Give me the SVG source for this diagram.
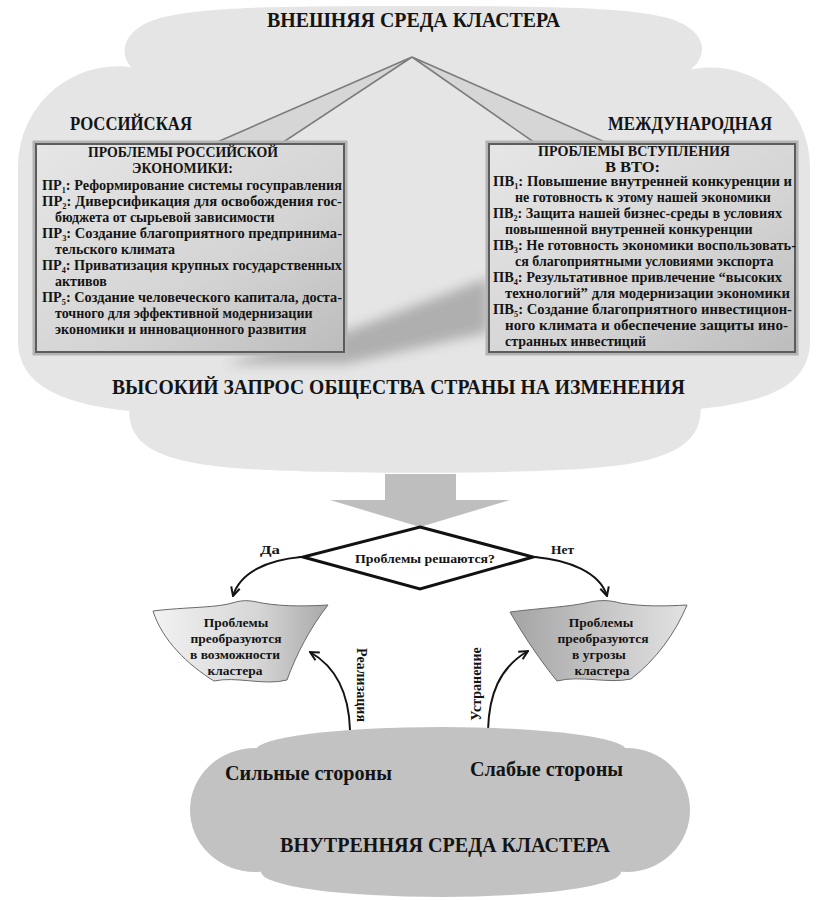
<svg xmlns="http://www.w3.org/2000/svg" width="830" height="900" viewBox="0 0 830 900">
<style>
.t{font-family:"Liberation Serif","Times New Roman",serif;font-weight:bold;fill:#141414}
.h{font-size:14px}
.b{font-size:14px}
.m{font-size:13.5px;text-anchor:middle}
.cloud1{fill:#e5e5e5}
.cloud2{fill:#c2c2c2}
.ln{fill:none;stroke:#141414;stroke-width:2}
.box{fill:url(#gbox);stroke:#5c5c5c;stroke-width:2}
.boxo{fill:none;stroke:#b4b4b4;stroke-width:3}
.wedge{fill:#d6d6d6;stroke:#7c7c7c;stroke-width:1.6}
</style>
<defs>
<linearGradient id="gbox" x1="0" y1="0" x2="1" y2="1">
<stop offset="0" stop-color="#e6e6e6"/>
<stop offset="0.6" stop-color="#d4d4d4"/>
<stop offset="1" stop-color="#bcbcbc"/>
</linearGradient>
<linearGradient id="gbowlL" x1="0" y1="0" x2="1" y2="0">
<stop offset="0" stop-color="#f2f2f2"/>
<stop offset="0.6" stop-color="#d6d6d6"/>
<stop offset="1" stop-color="#a9a9a9"/>
</linearGradient>
<linearGradient id="gbowlR" x1="0" y1="0" x2="1" y2="0">
<stop offset="0" stop-color="#a4a4a4"/>
<stop offset="0.5" stop-color="#c4c4c4"/>
<stop offset="1" stop-color="#e2e2e2"/>
</linearGradient>
<filter id="blur" x="-20%" y="-50%" width="140%" height="200%"><feGaussianBlur stdDeviation="6"/></filter>
<marker id="ah" viewBox="0 0 10 10" refX="9" refY="5" markerWidth="11" markerHeight="11" markerUnits="userSpaceOnUse" orient="auto">
<path d="M1,1 L9,5 L1,9" fill="none" stroke="#141414" stroke-width="1.8"/>
</marker>
</defs>

<!-- outer cloud -->
<g id="external-cloud">
<path class="cloud1" d="M140,75 C116,60 118,30 160,18 C200,8 260,6 412,6 C565,6 630,8 668,18 C708,30 712,58 684,74 Z"/>
<path class="cloud1" d="M145,70 A100,100 0 0 0 18,167 L18,340 C18,385 60,405 140,412 L170,412 L170,70 Z"/>
<path class="cloud1" d="M680,72 A100,100 0 0 1 810,167 L810,340 C810,385 770,403 690,410 L660,410 L660,72 Z"/>
<rect class="cloud1" x="150" y="68" width="530" height="350"/>
<path class="cloud1" d="M130,400 C124,442 150,463 250,469 C330,474 500,474 580,469 C680,463 706,440 700,398 Z"/>
<polygon points="250,356 345,332 488,278 488,332 345,364 225,364" fill="#6e6e6e" opacity="0.45" filter="url(#blur)"/>
<text class="t" x="267" y="27" font-size="21" textLength="293" lengthAdjust="spacingAndGlyphs">ВНЕШНЯЯ СРЕДА  КЛАСТЕРА</text>
<text class="t" x="70" y="130" font-size="18" textLength="122" lengthAdjust="spacingAndGlyphs">РОССИЙСКАЯ</text>
<text class="t" x="608" y="130" font-size="18" textLength="164" lengthAdjust="spacingAndGlyphs">МЕЖДУНАРОДНАЯ</text>
<text class="t" x="112" y="394" font-size="21" textLength="573" lengthAdjust="spacingAndGlyphs">ВЫСОКИЙ ЗАПРОС ОБЩЕСТВА СТРАНЫ НА ИЗМЕНЕНИЯ</text>
</g>

<!-- connectors -->
<g id="connectors">
<polygon class="wedge" points="412,57 215,143 282,143"/>
<polygon class="wedge" points="412,57 535,143 607,143"/>
<polygon points="330,500 385,500 385,474 456,474 456,500 510,500 420,527" fill="#bebebe"/>
<path class="ln" d="M301,557 C268,560 240,572 233,596" marker-end="url(#ah)"/>
<path class="ln" d="M535,557 C568,560 600,572 607,596" marker-end="url(#ah)"/>
<path class="ln" d="M350,730 C349,695 338,668 310,652" marker-end="url(#ah)"/>
<path class="ln" d="M488,730 C489,695 499,668 528,651" marker-end="url(#ah)"/>
<path class="ln" d="M348,832 C340,815 328,800 318,789" marker-end="url(#ah)"/>
<path class="ln" d="M515,831 C528,818 540,805 548,789" marker-end="url(#ah)"/>
<text class="t" x="260" y="554" font-size="13" textLength="20" lengthAdjust="spacingAndGlyphs">Да</text>
<text class="t" x="551" y="554" font-size="13" textLength="23" lengthAdjust="spacingAndGlyphs">Нет</text>
<text class="t" font-size="14" text-anchor="middle" transform="translate(357,685) rotate(90)">Реализация</text>
<text class="t" font-size="14" text-anchor="middle" transform="translate(481,684) rotate(-90)">Устранение</text>
</g>

<!-- left box -->
<g id="box-russia">
<rect class="boxo" x="34" y="142" width="312" height="212"/>
<rect class="box" x="36" y="144" width="308" height="208"/>
<text class="t h" x="88" y="157" textLength="190" lengthAdjust="spacingAndGlyphs">ПРОБЛЕМЫ РОССИЙСКОЙ</text>
<text class="t h" x="132" y="173" textLength="101" lengthAdjust="spacingAndGlyphs">ЭКОНОМИКИ:</text>
<text class="t b" x="42" y="190" textLength="300" lengthAdjust="spacingAndGlyphs">ПР<tspan font-size="8" dy="3">1</tspan><tspan dy="-3">: Реформирование системы госуправления</tspan></text>
<text class="t b" x="42" y="206" textLength="300" lengthAdjust="spacingAndGlyphs">ПР<tspan font-size="8" dy="3">2</tspan><tspan dy="-3">: Диверсификация для освобождения гос-</tspan></text>
<text class="t b" x="55" y="222">бюджета от сырьевой зависимости</text>
<text class="t b" x="42" y="238" textLength="300" lengthAdjust="spacingAndGlyphs">ПР<tspan font-size="8" dy="3">3</tspan><tspan dy="-3">: Создание благоприятного предпринима-</tspan></text>
<text class="t b" x="55" y="254">тельского климата</text>
<text class="t b" x="42" y="270" textLength="300" lengthAdjust="spacingAndGlyphs">ПР<tspan font-size="8" dy="3">4</tspan><tspan dy="-3">: Приватизация крупных государственных</tspan></text>
<text class="t b" x="55" y="286">активов</text>
<text class="t b" x="42" y="302" textLength="300" lengthAdjust="spacingAndGlyphs">ПР<tspan font-size="8" dy="3">5</tspan><tspan dy="-3">: Создание человеческого капитала, доста-</tspan></text>
<text class="t b" x="55" y="318">точного для эффективной модернизации</text>
<text class="t b" x="55" y="334">экономики и инновационного развития</text>
</g>

<!-- right box -->
<g id="box-wto">
<rect class="boxo" x="487" y="142" width="310" height="212"/>
<rect class="box" x="489" y="144" width="306" height="208"/>
<text class="t h" x="538" y="156" textLength="192" lengthAdjust="spacingAndGlyphs">ПРОБЛЕМЫ ВСТУПЛЕНИЯ</text>
<text class="t h" x="605" y="172" textLength="55" lengthAdjust="spacingAndGlyphs">В ВТО:</text>
<text class="t b" x="493" y="186" textLength="299" lengthAdjust="spacingAndGlyphs">ПВ<tspan font-size="8" dy="3">1</tspan><tspan dy="-3">: Повышение внутренней конкуренции и</tspan></text>
<text class="t b" x="515" y="202">не готовность к этому нашей экономики</text>
<text class="t b" x="493" y="218" textLength="289" lengthAdjust="spacingAndGlyphs">ПВ<tspan font-size="8" dy="3">2</tspan><tspan dy="-3">: Защита нашей бизнес-среды в условиях</tspan></text>
<text class="t b" x="505" y="234">повышенной внутренней конкуренции</text>
<text class="t b" x="493" y="250" textLength="303" lengthAdjust="spacingAndGlyphs">ПВ<tspan font-size="8" dy="3">3</tspan><tspan dy="-3">: Не готовность экономики воспользовать-</tspan></text>
<text class="t b" x="515" y="266">ся благоприятными условиями экспорта</text>
<text class="t b" x="493" y="282" textLength="289" lengthAdjust="spacingAndGlyphs">ПВ<tspan font-size="8" dy="3">4</tspan><tspan dy="-3">: Результативное привлечение “высоких</tspan></text>
<text class="t b" x="505" y="298" textLength="285" lengthAdjust="spacingAndGlyphs">технологий” для модернизации экономики</text>
<text class="t b" x="493" y="314" textLength="299" lengthAdjust="spacingAndGlyphs">ПВ<tspan font-size="8" dy="3">5</tspan><tspan dy="-3">: Создание благоприятного инвестицион-</tspan></text>
<text class="t b" x="505" y="330" textLength="283" lengthAdjust="spacingAndGlyphs">ного климата и обеспечение защиты ино-</text>
<text class="t b" x="505" y="346">странных инвестиций</text>
</g>

<!-- decision -->
<g id="decision">
<polygon points="420,527 533,557 420,589 303,557" fill="#ffffff" stroke="#111" stroke-width="3" stroke-linejoin="miter"/>
<text class="t" x="355" y="563" font-size="13.5" textLength="140" lengthAdjust="spacingAndGlyphs">Проблемы решаются?</text>
</g>

<!-- opportunities -->
<g id="opportunities">
<path d="M153,611 C185,607 215,608 232,603 C245,599 252,601 262,603 C285,607 310,606 328,605 C310,628 296,655 287,680 C265,686 236,676 214,681 C188,665 162,640 153,611 Z" fill="url(#gbowlL)" stroke="#6a6a6a" stroke-width="1"/>
<text class="t m" x="236" y="627">Проблемы</text>
<text class="t m" x="236" y="643">преобразуются</text>
<text class="t m" x="235" y="659">в возможности</text>
<text class="t m" x="235" y="675">кластера</text>
</g>

<!-- threats -->
<g id="threats">
<path d="M510,612 C540,608 570,607 590,602 C600,600 610,600 620,603 C645,607 668,606 687,605 C676,632 656,660 631,679 C608,684 580,675 557,681 C540,660 525,638 510,612 Z" fill="url(#gbowlR)" stroke="#6a6a6a" stroke-width="1"/>
<text class="t m" x="601" y="627">Проблемы</text>
<text class="t m" x="603" y="643">преобразуются</text>
<text class="t m" x="599" y="659">в угрозы</text>
<text class="t m" x="602" y="675">кластера</text>
</g>

<!-- internal cloud -->
<g id="internal-cloud">
<ellipse class="cloud2" cx="441" cy="750" rx="185" ry="23"/>
<ellipse class="cloud2" cx="255" cy="810" rx="65" ry="62"/>
<ellipse class="cloud2" cx="627" cy="810" rx="63" ry="62"/>
<rect class="cloud2" x="268" y="745" width="346" height="130"/>
<ellipse class="cloud2" cx="441" cy="872" rx="180" ry="25"/>
<text class="t" x="225" y="780" font-size="20" textLength="167" lengthAdjust="spacingAndGlyphs">Сильные  стороны</text>
<text class="t" x="470" y="776" font-size="20" textLength="153" lengthAdjust="spacingAndGlyphs">Слабые  стороны</text>
<text class="t" x="280" y="852" font-size="20" textLength="330" lengthAdjust="spacingAndGlyphs">ВНУТРЕННЯЯ  СРЕДА  КЛАСТЕРА</text>
</g>
</svg>
